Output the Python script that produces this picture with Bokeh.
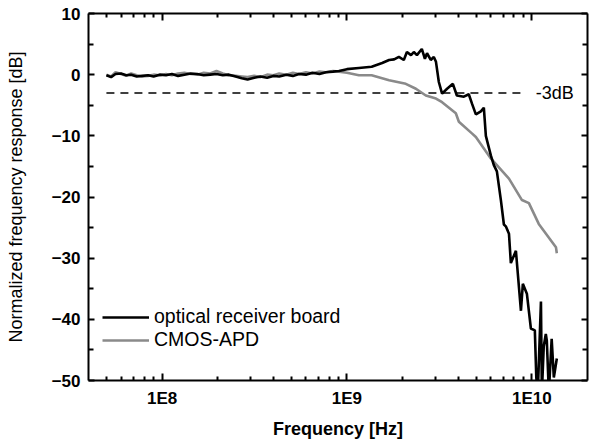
from bokeh.plotting import figure
from bokeh.models import (FixedTicker, LogAxis, LinearAxis, CustomJSTickFormatter,
                          Legend, LegendItem, LogScale)
from bokeh.core.properties import value
from bokeh.embed import file_html
from bokeh.resources import INLINE

# ---------------- data ----------------
board_freq = [5.0e7, 5.3e7, 5.6e7, 6.0e7, 6.4e7, 6.8e7, 7.3e7, 7.8e7, 8.4e7, 9.0e7,
              9.7e7, 1.05e8, 1.13e8, 1.22e8, 1.32e8, 1.43e8, 1.55e8, 1.68e8, 1.82e8, 1.97e8,
              2.13e8, 2.3e8, 2.5e8, 2.7e8, 2.9e8, 3.15e8, 3.4e8, 3.7e8, 4.0e8, 4.3e8,
              4.7e8, 5.1e8, 5.5e8, 6.0e8, 6.5e8, 7.1e8, 7.7e8, 8.4e8, 9.05e8, 1.0e9,
              1.16e9, 1.36e9, 1.55e9, 1.69e9, 1.8e9, 1.91e9, 2.03e9, 2.11e9, 2.22e9, 2.30e9,
              2.39e9, 2.54e9, 2.64e9, 2.71e9, 2.84e9, 2.95e9, 3.03e9, 3.14e9, 3.27e9, 3.48e9,
              3.74e9, 3.93e9, 4.29e9, 4.56e9, 4.74e9, 4.98e9, 5.30e9, 5.50e9, 5.64e9, 6.00e9,
              6.23e9, 6.47e9, 6.80e9, 7.06e9, 7.23e9, 7.52e9, 7.70e9, 8.20e9, 8.73e9, 8.94e9,
              9.40e9, 9.88e9, 1.038e10, 1.057e10, 1.077e10, 1.12e10, 1.133e10, 1.16e10, 1.19e10, 1.205e10,
              1.236e10, 1.28e10, 1.315e10, 1.365e10]
board_db = [-0.1, -0.4, 0.1, 0.2, -0.1, 0.0, -0.3, -0.2, -0.1, -0.3,
            0.0, -0.1, 0.1, -0.2, 0.0, 0.2, 0.1, -0.1, 0.0, 0.1,
            -0.1, 0.0, -0.3, -0.6, -0.8, -0.5, -0.3, -0.5, -0.2, -0.3,
            0.0, -0.2, 0.1, 0.0, 0.3, 0.1, 0.4, 0.5, 0.6, 0.9,
            1.1, 1.3, 1.9, 2.4, 2.5, 2.9, 2.4, 3.7, 3.2, 3.7,
            3.2, 4.2, 2.6, 3.5, 2.4, 2.9, 2.1, -1.2, -3.1, -2.3,
            -1.5, -3.4, -3.6, -3.2, -4.7, -6.5, -6.0, -5.4, -10.0, -13.2,
            -14.8, -15.8, -20.5, -24.5, -24.8, -26.0, -30.8, -28.8, -38.6, -34.2,
            -35.8, -41.5, -41.8, -49.5, -52.0, -37.1, -52.0, -44.4, -42.4, -43.5,
            -52.0, -43.2, -49.5, -46.4]

apd_freq = [5.0e7, 5.3e7, 5.6e7, 6.0e7, 6.4e7, 6.8e7, 7.3e7, 7.8e7, 8.4e7, 9.0e7,
            9.7e7, 1.05e8, 1.13e8, 1.22e8, 1.32e8, 1.43e8, 1.55e8, 1.68e8, 1.82e8, 1.97e8,
            2.13e8, 2.3e8, 2.5e8, 2.7e8, 2.9e8, 3.15e8, 3.4e8, 3.7e8, 4.0e8, 4.3e8,
            4.7e8, 5.1e8, 5.5e8, 6.0e8, 6.5e8, 7.1e8, 7.7e8, 8.4e8, 9.05e8, 1.0e9,
            1.16e9, 1.36e9, 1.69e9, 2.08e9, 2.36e9, 2.67e9, 3.03e9, 3.27e9, 3.88e9, 4.03e9,
            4.74e9, 4.98e9, 6.00e9, 7.52e9, 8.84e9, 9.64e9, 1.09e10, 1.35e10, 1.365e10]
apd_db = [0.0, -0.3, 0.4, 0.1, -0.2, 0.2, -0.1, -0.3, -0.2, 0.0,
          -0.1, 0.1, -0.1, 0.2, 0.3, 0.1, 0.0, 0.3, 0.2, 0.6,
          0.2, -0.1, -0.2, -0.3, -0.4, -0.2, -0.4, 0.0, -0.1, 0.2,
          0.0, 0.3, 0.1, 0.4, 0.2, 0.5, 0.4, 0.6, 0.5, 0.3,
          -0.1, -0.1, -0.9, -1.5, -2.3, -3.4, -3.9, -4.5, -6.3, -7.7,
          -9.6, -10.2, -13.7, -17.0, -20.5, -21.0, -24.4, -28.2, -29.2]

ref_db = -3
ref_freq = [5.0e7, 8.7e9]
ref_label = "-3dB"
ref_label_freq = 1.05e10

x_major = [1e8, 1e9, 1e10]
x_minor = [5e7, 6e7, 7e7, 8e7, 9e7,
           2e8, 3e8, 4e8, 5e8, 6e8, 7e8, 8e8, 9e8,
           2e9, 3e9, 4e9, 5e9, 6e9, 7e9, 8e9, 9e9]
y_major = [-50, -40, -30, -20, -10, 0, 10]
y_minor = [-45, -35, -25, -15, -5, 5]

FONT = "Liberation Sans"

p = figure(width=589, height=443, x_axis_type=None, y_axis_type=None,
           x_range=(4e7, 2e10), y_range=(-50, 10),
           output_backend="svg", toolbar_location=None,
           min_border_left=88, min_border_top=13, min_border_right=2, min_border_bottom=63)
p.x_scale = LogScale()
p.outline_line_color = None
p.background_fill_color = "white"
p.border_fill_color = "white"

fmt = CustomJSTickFormatter(code='return "1E" + Math.round(Math.log10(tick));')


def style(ax, major_in, minor_in, labels):
    ax.axis_line_width = 2
    ax.axis_line_color = "black"
    ax.major_tick_in = major_in
    ax.major_tick_out = 0
    ax.minor_tick_in = minor_in
    ax.minor_tick_out = 0
    ax.major_tick_line_width = 2
    ax.minor_tick_line_width = 2
    if labels:
        ax.major_label_text_font = FONT
        ax.major_label_text_font_style = "bold"
        ax.major_label_text_font_size = "17px"
        ax.major_label_text_color = "black"
    else:
        # mirrored axes: ticks only, labels not drawn at all
        ax.major_label_text_font_size = "0px"
        ax.major_label_text_color = None
        ax.major_label_text_alpha = 0
        ax.major_label_standoff = 0


xb = LogAxis(ticker=FixedTicker(ticks=x_major, minor_ticks=x_minor), formatter=fmt,
             axis_label="Frequency [Hz]")
style(xb, 7, 4, True)
xb.major_label_standoff = 8
xb.axis_label_standoff = 8
xb.axis_label_text_font = FONT
xb.axis_label_text_font_style = "bold"
xb.axis_label_text_font_size = "18px"
xb.axis_label_text_color = "black"
p.add_layout(xb, "below")

xt = LogAxis(ticker=FixedTicker(ticks=x_major, minor_ticks=x_minor), formatter=fmt)
style(xt, 7, 4, False)
p.add_layout(xt, "above")

yl = LinearAxis(ticker=FixedTicker(ticks=y_major, minor_ticks=y_minor),
                axis_label="Normalized frequency response [dB]")
style(yl, 6, 5, True)
yl.major_label_standoff = 8
yl.axis_label_standoff = 23
yl.axis_label_text_font = FONT
yl.axis_label_text_font_style = "normal"
yl.axis_label_text_font_size = "18px"
yl.axis_label_text_color = "black"
p.add_layout(yl, "left")

yr = LinearAxis(ticker=FixedTicker(ticks=y_major, minor_ticks=y_minor))
style(yr, 6, 5, False)
p.add_layout(yr, "right")

# reference -3 dB line
p.line(x=ref_freq, y=[ref_db, ref_db], line_color="black", line_width=1.7, line_dash="8 6")
p.text(x=[ref_label_freq], y=[ref_db], text=[ref_label], text_baseline="middle",
       text_align="left", text_font=value(FONT), text_font_size="18px", text_color="black")

r_apd = p.line(apd_freq, apd_db, line_color="#8a8a8a", line_width=2.6)
r_board = p.line(board_freq, board_db, line_color="black", line_width=2.6)

legend = Legend(items=[LegendItem(label="optical receiver board", renderers=[r_board]),
                       LegendItem(label="CMOS-APD", renderers=[r_apd])],
                location=(14, 29), margin=0, padding=0, spacing=0,
                glyph_width=47, glyph_height=20, label_height=20, label_standoff=5,
                label_text_font=FONT, label_text_font_size="19.5px", label_text_color="black",
                border_line_color=None, background_fill_alpha=0)
p.add_layout(legend, "center")

open("out.html", "w").write(file_html(p, INLINE))
